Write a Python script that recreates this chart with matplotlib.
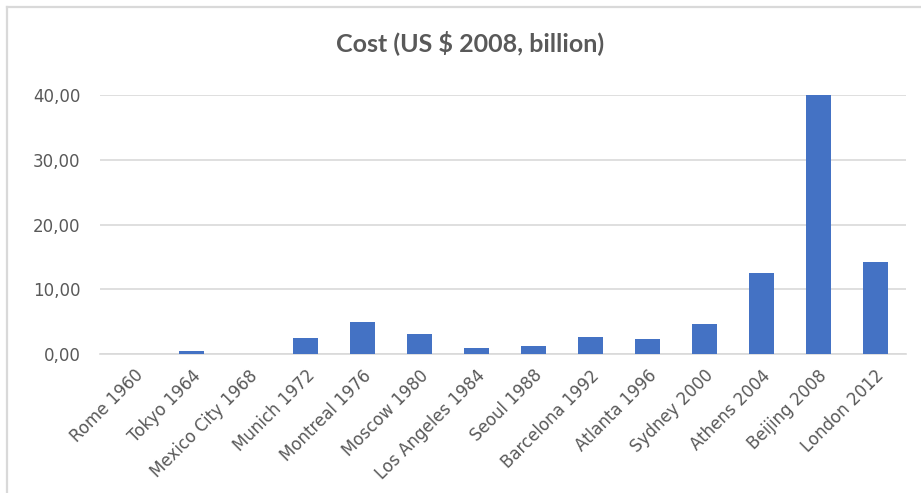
import matplotlib
matplotlib.use("Agg")
import matplotlib.pyplot as plt
from matplotlib.lines import Line2D
from matplotlib.ticker import FuncFormatter

cities = ["Rome 1960", "Tokyo 1964", "Mexico City 1968", "Munich 1972", "Montreal 1976",
          "Moscow 1980", "Los Angeles 1984", "Seoul 1988", "Barcelona 1992", "Atlanta 1996",
          "Sydney 2000", "Athens 2004", "Beijing 2008", "London 2012"]
cost = [0.0, 0.45, 0.0, 2.42, 4.94, 3.14, 0.93, 1.24, 2.58, 2.27, 4.63, 12.5, 40.0, 14.2]
yticks = [0, 10, 20, 30, 40]

W, H = 921, 493
fig = plt.figure(figsize=(W / 100, H / 100), dpi=100)
ax = fig.add_axes([100 / W, 1 - 354 / H, 806 / W, 259 / H])

# chart-area border (top and left visible)
fig.lines.append(Line2D([6.5 / W, 6.5 / W], [0, 1 - 6.5 / H], transform=fig.transFigure,
                        color='#d9d9d9', linewidth=1.6))
fig.lines.append(Line2D([6.5 / W, 1], [1 - 6.5 / H, 1 - 6.5 / H], transform=fig.transFigure,
                        color='#d9d9d9', linewidth=1.6))

x = list(range(len(cities)))
ax.bar(x, cost, width=0.44, color='#4472c4', zorder=3)
ax.set_xlim(-0.607, len(cities) - 1 + 0.543)
ax.set_ylim(0, 40)
ax.set_yticks(yticks)
ax.yaxis.set_major_formatter(FuncFormatter(lambda v, p: f"{v:.2f}".replace('.', ',')))
ax.grid(axis='y', color='#d9d9d9', linewidth=1.2, zorder=0)
ax.set_axisbelow(True)
for s in ['top', 'right', 'left']:
    ax.spines[s].set_visible(False)
ax.spines['bottom'].set_color('#d9d9d9')
ax.spines['bottom'].set_linewidth(1.2)
ax.set_xticks(x)
ax.set_xticklabels(cities, rotation=45, ha='right', rotation_mode='anchor',
                   fontfamily='DejaVu Sans')
for lbl in ax.get_yticklabels():
    lbl.set_fontfamily('DejaVu Sans')
ax.tick_params(axis='both', length=0, labelsize=12, colors='#595959')
ax.tick_params(axis='x', pad=9)
ax.tick_params(axis='y', pad=14)
fig.text(470 / W, 1 - 43 / H, "Cost (US $ 2008, billion)", ha='center', va='center',
         fontsize=18, fontweight='bold', color='#595959', fontfamily=['Lato', 'DejaVu Sans'])
fig.savefig("out.png", dpi=100)
